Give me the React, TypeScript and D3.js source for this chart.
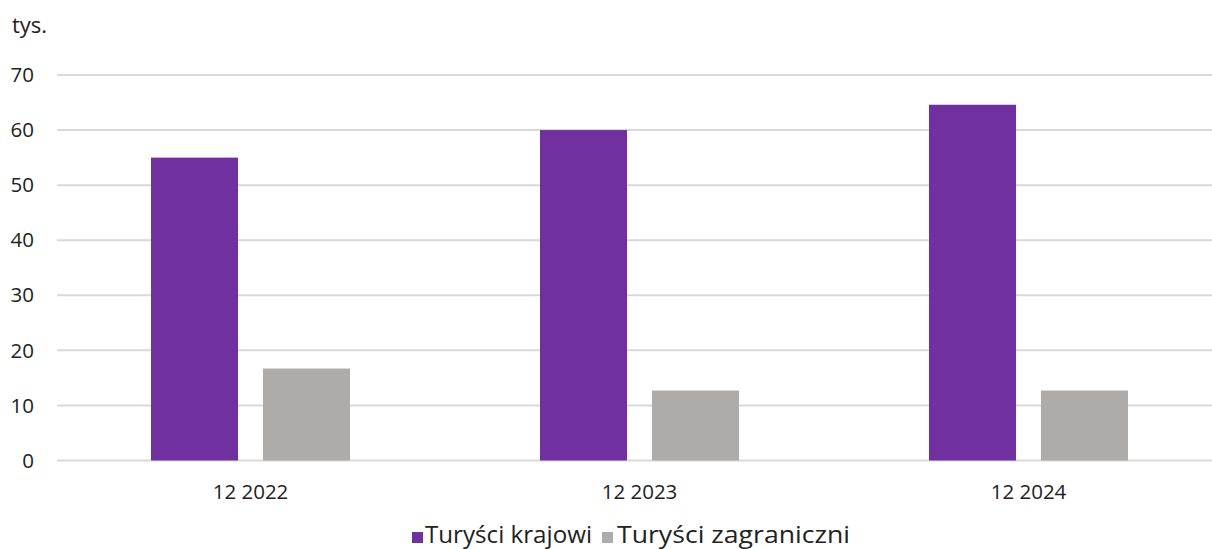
import React from "react";
import { scaleBand, scaleLinear } from "d3";

const categories = ["12 2022", "12 2023", "12 2024"];
const series = ["Turyści krajowi", "Turyści zagraniczni"];
const krajowi = [55, 60, 64.6];
const zagraniczni = [16.7, 12.7, 12.7];
const yTicks = [0, 10, 20, 30, 40, 50, 60, 70];
const colors = ["#7030a0", "#aeabab"];

const W = 1212;
const H = 549;
const font = "'Open Sans', 'Noto Sans', sans-serif";

export default function App() {
  const values = [krajowi, zagraniczni];

  const x0 = scaleBand().domain(categories).range([56, 1223]);
  const x1 = scaleBand()
    .domain(series)
    .range([0, x0.bandwidth()])
    .paddingInner(0.223)
    .paddingOuter(0.848);
  const y = scaleLinear().domain([0, 70]).range([460.5, 75]);

  // legend: swatch + text, widths
  const legend = [
    { x: 412, tx: 425, len: 167 },
    { x: 602, tx: 617, len: 233 },
  ];

  return (
    <svg
      width={W}
      height={H}
      style={{ position: "absolute", left: 0, top: 0, background: "#fff" }}
      fontFamily={font}
    >
      <text x={12} y={33} fontSize={22} fill="#222">
        tys.
      </text>

      {yTicks.map((t) => (
        <g key={t}>
          <line x1={57} x2={W} y1={y(t)} y2={y(t)} stroke="#d9d9d9" strokeWidth={2} />
          <text x={34} y={y(t)} dy="0.35em" textAnchor="end" fontSize={20.5} fill="#222">
            {t}
          </text>
        </g>
      ))}

      {categories.map((c, i) => (
        <g key={c} transform={`translate(${x0(c)},0)`}>
          {series.map((s, j) => (
            <rect
              key={s}
              x={x1(s)}
              y={y(values[j][i])}
              width={x1.bandwidth()}
              height={y(0) - y(values[j][i])}
              fill={colors[j]}
            />
          ))}
          <text
            x={x0.bandwidth() / 2}
            y={492}
            dy="0.35em"
            textAnchor="middle"
            fontSize={20.5}
            fill="#222"
          >
            {c}
          </text>
        </g>
      ))}

      <g>
        {series.map((s, j) => (
          <g key={s}>
            <rect x={legend[j].x} y={532} width={11} height={11} fill={colors[j]} />
            <text
              x={legend[j].tx}
              y={543}
              fontSize={23}
              fill="#222"
              textLength={legend[j].len}
              lengthAdjust="spacingAndGlyphs"
            >
              {s}
            </text>
          </g>
        ))}
      </g>
    </svg>
  );
}
